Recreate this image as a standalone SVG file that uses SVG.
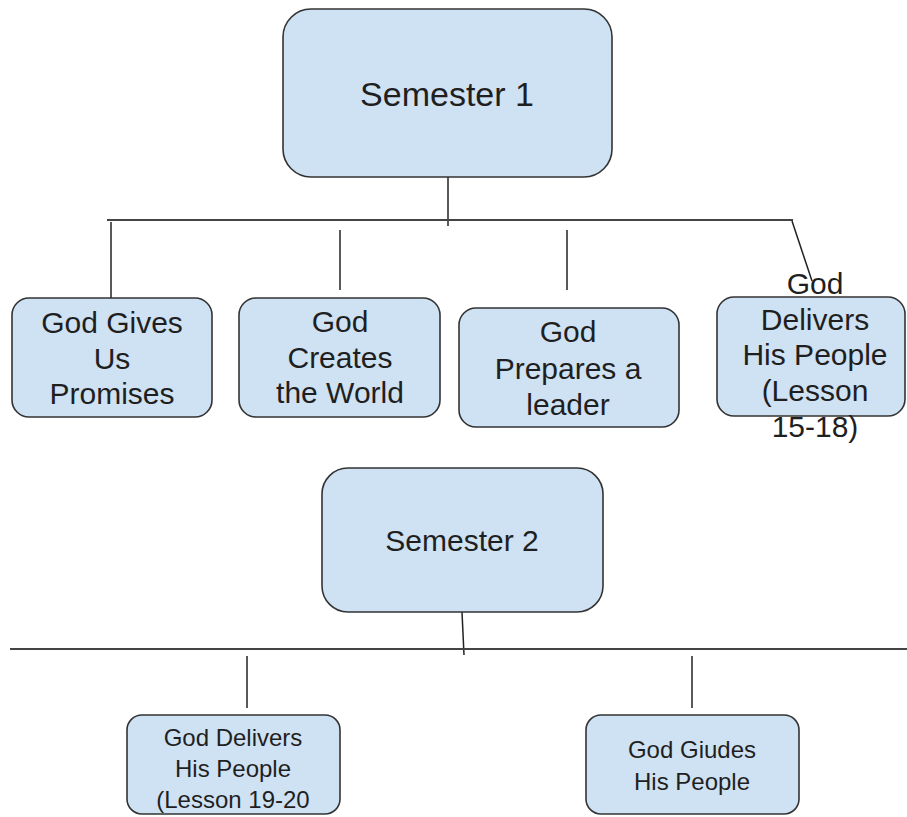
<svg xmlns="http://www.w3.org/2000/svg" width="907" height="817" viewBox="0 0 907 817">
<style>
.box{fill:#cfe2f3;stroke:#333;stroke-width:1.6}
.t{font-family:"Liberation Sans",Arial,sans-serif;fill:#1f1f1f;text-anchor:middle}
.ln{stroke:#222;stroke-width:1.5;fill:none}
.hl{stroke:#444;stroke-width:2;fill:none}
</style>
<rect width="907" height="817" fill="#fff"/>
<g id="connectors">
<line class="ln" x1="448" y1="177" x2="448" y2="226"/>
<line class="hl" x1="107" y1="220" x2="793" y2="220"/>
<line class="ln" x1="111" y1="222" x2="111" y2="298"/>
<line class="ln" x1="340" y1="230" x2="340" y2="290"/>
<line class="ln" x1="567" y1="230" x2="567" y2="290"/>
<line class="ln" x1="792" y1="221" x2="812" y2="281"/>
<line class="ln" x1="462" y1="612" x2="464" y2="655"/>
<line class="hl" x1="10" y1="649" x2="907" y2="649"/>
<line class="ln" x1="247" y1="656" x2="247" y2="708"/>
<line class="ln" x1="692" y1="656" x2="692" y2="708"/>
</g>
<g id="semester1">
<rect class="box" x="283" y="9" width="329" height="168" rx="28"/>
<text class="t" x="447" y="106" font-size="34">Semester 1</text>
</g>
<g id="promises">
<rect class="box" x="12" y="298" width="200" height="119" rx="17"/>
<text class="t" x="112" font-size="30"><tspan x="112" y="333">God Gives</tspan><tspan x="112" y="369">Us</tspan><tspan x="112" y="404">Promises</tspan></text>
</g>
<g id="creates">
<rect class="box" x="239" y="298" width="201" height="119" rx="17"/>
<text class="t" x="340" font-size="30"><tspan x="340" y="332">God</tspan><tspan x="340" y="368">Creates</tspan><tspan x="340" y="403">the World</tspan></text>
</g>
<g id="leader">
<rect class="box" x="459" y="308" width="220" height="119" rx="17"/>
<text class="t" x="568" font-size="30"><tspan x="568" y="342">God</tspan><tspan x="568" y="379">Prepares a</tspan><tspan x="568" y="415">leader</tspan></text>
</g>
<g id="delivers1">
<rect class="box" x="717" y="297" width="188" height="119" rx="17"/>
<text class="t" x="815" font-size="30"><tspan x="815" y="294">God</tspan><tspan x="815" y="330">Delivers</tspan><tspan x="815" y="365">His People</tspan><tspan x="815" y="401">(Lesson</tspan><tspan x="815" y="437">15-18)</tspan></text>
</g>
<g id="semester2">
<rect class="box" x="322" y="468" width="281" height="144" rx="26"/>
<text class="t" x="462" y="551" font-size="30">Semester 2</text>
</g>
<g id="delivers2">
<rect class="box" x="127" y="715" width="213" height="99" rx="15"/>
<text class="t" x="233" font-size="24"><tspan x="233" y="746">God Delivers</tspan><tspan x="233" y="777">His People</tspan><tspan x="233" y="808">(Lesson 19-20</tspan></text>
</g>
<g id="guides">
<rect class="box" x="586" y="715" width="213" height="99" rx="15"/>
<text class="t" x="692" font-size="24"><tspan x="692" y="758">God Giudes</tspan><tspan x="692" y="790">His People</tspan></text>
</g>
</svg>
